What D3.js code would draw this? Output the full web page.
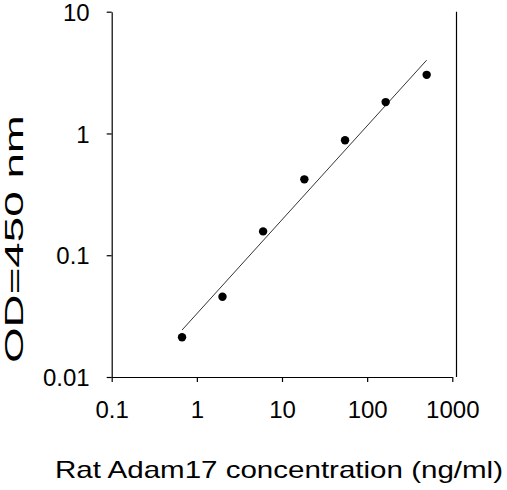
<!DOCTYPE html>
<html><head><meta charset="utf-8">
<script src="https://cdn.jsdelivr.net/npm/d3@7"></script>
<style>body{margin:0;background:#fff}svg{font-family:"Liberation Sans",Arial,sans-serif}</style>
</head><body>
<script>
const conc = [0.67, 2.0, 6.0, 18.3, 55, 165, 500];
const od = [0.0212, 0.0456, 0.157, 0.42, 0.88, 1.81, 3.03];
const fitX = [0.67, 500];
const fitY = [0.0243, 4.0];
const xTicks = [0.1, 1, 10, 100, 1000];
const yTicks = [0.01, 0.1, 1, 10];

const W = 507, H = 490;
const svg = d3.select("body").append("svg").attr("width", W).attr("height", H);
const x = d3.scaleLog().domain([0.1, 1000]).range([111.7, 452.3]);
const y = d3.scaleLog().domain([0.01, 10]).range([377, 11.7]);

const xa = svg.append("g").attr("transform", "translate(0,377)")
  .call(d3.axisBottom(x).tickValues(xTicks).tickFormat(d => String(d)).tickSize(5).tickSizeOuter(0));
const ya = svg.append("g").attr("transform", "translate(111.7,0)")
  .call(d3.axisLeft(y).tickValues(yTicks).tickFormat(d => String(d)).tickSize(5).tickSizeOuter(0));
[xa, ya].forEach(a => {
  a.selectAll("path,line").attr("stroke", "#000").attr("stroke-width", 1.2);
  a.selectAll("text").attr("fill", "#000").style("font-size", "24px").style("font-family", "Liberation Sans, Arial, sans-serif");
});
xa.selectAll("text").attr("y", 41).attr("dy", 0);
ya.selectAll("text").attr("x", -22).attr("dy", "0.36em");
svg.append("line").attr("x1", 456.5).attr("x2", 456.5).attr("y1", 11.7).attr("y2", 377)
  .attr("stroke", "#000").attr("stroke-width", 1.2);

svg.append("line").attr("x1", x(fitX[0])).attr("y1", y(fitY[0]))
  .attr("x2", x(fitX[1])).attr("y2", y(fitY[1])).attr("stroke", "#000").attr("stroke-width", 0.8);

svg.selectAll("circle.pt").data(conc).enter().append("circle")
  .attr("cx", d => x(d)).attr("cy", (d, i) => y(od[i])).attr("r", 4.2).attr("fill", "#000");

svg.append("text").attr("x", 55).attr("y", 478)
  .attr("textLength", 448).attr("lengthAdjust", "spacingAndGlyphs")
  .style("font-size", "24px").text("Rat Adam17 concentration (ng/ml)");
svg.append("text").attr("transform", "translate(23,363) rotate(-90)")
  .attr("textLength", 248).attr("lengthAdjust", "spacingAndGlyphs")
  .style("font-size", "25px").text("OD=450 nm");
</script>
</body></html>
